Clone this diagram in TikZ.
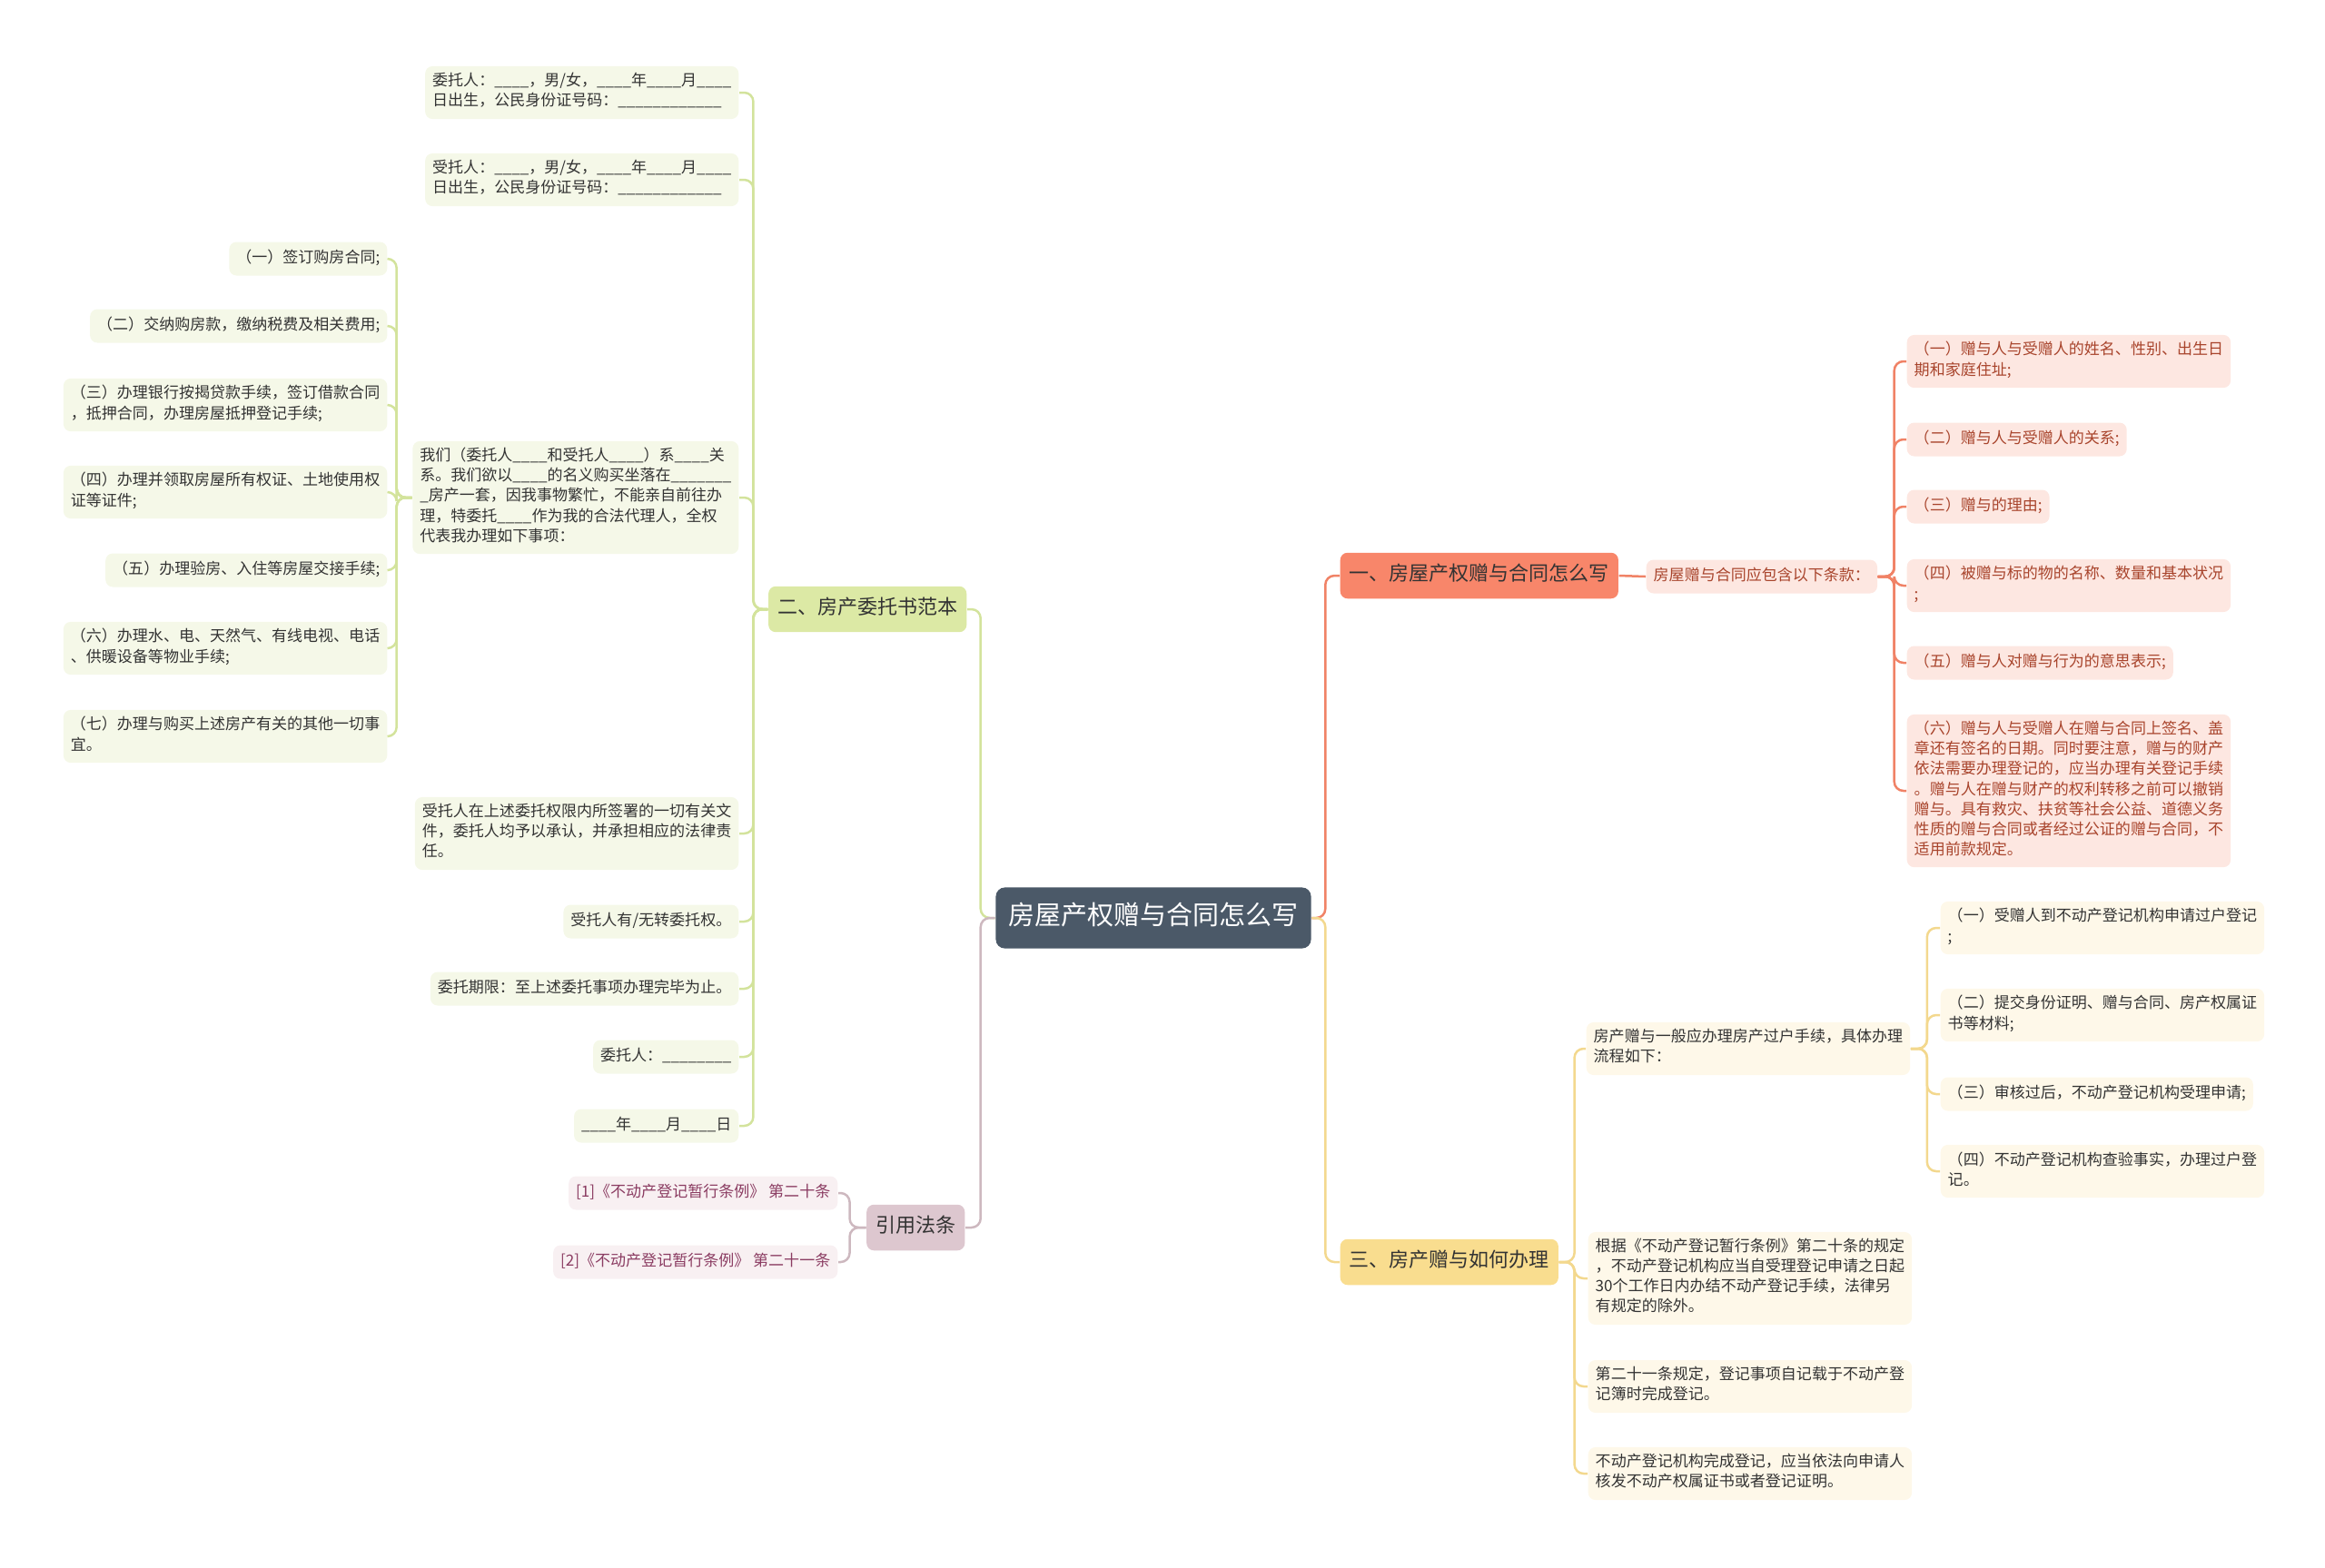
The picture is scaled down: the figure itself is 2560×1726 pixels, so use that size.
\documentclass[tikz,border=0pt]{standalone}
\usepackage{fontspec}
\setmainfont{Noto Sans CJK SC}
\usepackage{tikz}

\definecolor{rootfill}{HTML}{4B5968}
\definecolor{darktext}{HTML}{333333}
\definecolor{redline}{HTML}{F08266}
\definecolor{redfill}{HTML}{F8866A}
\definecolor{redleaf}{HTML}{FDE7E1}
\definecolor{redtext}{HTML}{A8442C}
\definecolor{yelline}{HTML}{F3D88E}
\definecolor{yelfill}{HTML}{F9DD8F}
\definecolor{yelleaf}{HTML}{FEF8E9}
\definecolor{grnline}{HTML}{D3E39C}
\definecolor{grnfill}{HTML}{DCE9A5}
\definecolor{grnleaf}{HTML}{F5F8E8}
\definecolor{pnkline}{HTML}{CDB8BF}
\definecolor{pnkfill}{HTML}{DDC7CF}
\definecolor{pnkleaf}{HTML}{F8F0F2}
\definecolor{pnktext}{HTML}{8B3C62}

\newcommand{\leaffont}{\fontsize{4.84pt}{6.26pt}\selectfont}
\newcommand{\branchfont}{\fontsize{6.26pt}{7.5pt}\selectfont}
\newcommand{\rootfont}{\fontsize{8.25pt}{10pt}\selectfont}

\tikzset{
  box/.style={rounded corners=0.08cm, align=left,
    execute at begin node=\strut, execute at end node=\strut},
  leaf/.style={box, font=\leaffont, inner xsep=0.08cm, inner ysep=0.075cm, text=darktext},
  gleaf/.style={leaf, fill=grnleaf},
  rleaf/.style={leaf, fill=redleaf, text=redtext},
  yleaf/.style={leaf, fill=yelleaf},
  pleaf/.style={leaf, fill=pnkleaf, text=pnktext},
  branch/.style={box, font=\branchfont, inner xsep=0.1cm, inner ysep=0.12cm, text=darktext},
  rootbox/.style={box, font=\rootfont, fill=rootfill, text=white,
    inner xsep=0.14cm, inner ysep=0.16cm, rounded corners=0.1cm},
  link/.style={line width=0.025cm, rounded corners=0.1cm},
}

\begin{document}
\begin{tikzpicture}[x=0.01cm, y=-0.01cm]
    \useasboundingbox (0,0) rectangle (2560,1726);

    \node[rootbox] (root) at (1270,1011) {房屋产权赠与合同怎么写};

    % right: 一
    \node[branch, fill=redfill, anchor=west] (zengyu) at (1475,634) {一、房屋产权赠与合同怎么写};
    \node[rleaf, anchor=west] (tiaokuan) at (1812,635) {房屋赠与合同应包含以下条款：};
    \node[rleaf, anchor=west] (tk1) at (2099,398) {（一）赠与人与受赠人的姓名、性别、出生日\\期和家庭住址;};
    \node[rleaf, anchor=west] (tk2) at (2099,484) {（二）赠与人与受赠人的关系;};
    \node[rleaf, anchor=west] (tk3) at (2099,558) {（三）赠与的理由;};
    \node[rleaf, anchor=west] (tk4) at (2099,645) {（四）被赠与标的物的名称、数量和基本状况\\;};
    \node[rleaf, anchor=west] (tk5) at (2099,730) {（五）赠与人对赠与行为的意思表示;};
    \node[rleaf, anchor=west] (tk6) at (2099,871) {（六）赠与人与受赠人在赠与合同上签名、盖\\章还有签名的日期。同时要注意，赠与的财产\\依法需要办理登记的，应当办理有关登记手续\\。赠与人在赠与财产的权利转移之前可以撤销\\赠与。具有救灾、扶贫等社会公益、道德义务\\性质的赠与合同或者经过公证的赠与合同，不\\适用前款规定。};

    % right: 三
    \node[branch, fill=yelfill, anchor=west] (banli) at (1475,1390) {三、房产赠与如何办理};
    \node[yleaf, anchor=west] (liucheng) at (1746,1155) {房产赠与一般应办理房产过户手续，具体办理\\流程如下：};
    \node[yleaf, anchor=west] (lc1) at (2136,1022) {（一）受赠人到不动产登记机构申请过户登记\\;};
    \node[yleaf, anchor=west] (lc2) at (2136,1118) {（二）提交身份证明、赠与合同、房产权属证\\书等材料;};
    \node[yleaf, anchor=west] (lc3) at (2136,1205) {（三）审核过后，不动产登记机构受理申请;};
    \node[yleaf, anchor=west] (lc4) at (2136,1290) {（四）不动产登记机构查验事实，办理过户登\\记。};
    \node[yleaf, anchor=west] (tiao20) at (1748,1408) {根据《不动产登记暂行条例》第二十条的规定\\，不动产登记机构应当自受理登记申请之日起\\30个工作日内办结不动产登记手续，法律另\\有规定的除外。};
    \node[yleaf, anchor=west] (tiao21) at (1748,1527) {第二十一条规定，登记事项自记载于不动产登\\记簿时完成登记。};
    \node[yleaf, anchor=west] (zhengshu) at (1748,1623) {不动产登记机构完成登记，应当依法向申请人\\核发不动产权属证书或者登记证明。};

    % left: 二
    \node[branch, fill=grnfill, anchor=east] (fanben) at (1065,671) {二、房产委托书范本};
    \node[gleaf, anchor=east] (weituo) at (814,102) {委托人：\_\_\_\_，男/女，\_\_\_\_年\_\_\_\_月\_\_\_\_\\日出生，公民身份证号码：\_\_\_\_\_\_\_\_\_\_\_\_};
    \node[gleaf, anchor=east] (shoutuo) at (814,198) {受托人：\_\_\_\_，男/女，\_\_\_\_年\_\_\_\_月\_\_\_\_\\日出生，公民身份证号码：\_\_\_\_\_\_\_\_\_\_\_\_};
    \node[gleaf, anchor=east] (shixiang) at (814,548) {我们（委托人\_\_\_\_和受托人\_\_\_\_）系\_\_\_\_关\\系。我们欲以\_\_\_\_的名义购买坐落在\_\_\_\_\_\_\_\\\_房产一套，因我事物繁忙，不能亲自前往办\\理，特委托\_\_\_\_作为我的合法代理人，全权\\代表我办理如下事项：};
    \node[gleaf, anchor=east] (sx1) at (427,285) {（一）签订购房合同;};
    \node[gleaf, anchor=east] (sx2) at (427,359) {（二）交纳购房款，缴纳税费及相关费用;};
    \node[gleaf, anchor=east] (sx3) at (427,446) {（三）办理银行按揭贷款手续，签订借款合同\\，抵押合同，办理房屋抵押登记手续;};
    \node[gleaf, anchor=east] (sx4) at (427,542) {（四）办理并领取房屋所有权证、土地使用权\\证等证件;};
    \node[gleaf, anchor=east] (sx5) at (427,628) {（五）办理验房、入住等房屋交接手续;};
    \node[gleaf, anchor=east] (sx6) at (427,714) {（六）办理水、电、天然气、有线电视、电话\\、供暖设备等物业手续;};
    \node[gleaf, anchor=east] (sx7) at (427,811) {（七）办理与购买上述房产有关的其他一切事\\宜。};
    \node[gleaf, anchor=east] (chengren) at (814,918) {受托人在上述委托权限内所签署的一切有关文\\件，委托人均予以承认，并承担相应的法律责\\任。};
    \node[gleaf, anchor=east] (zhuan) at (814,1015) {受托人有/无转委托权。};
    \node[gleaf, anchor=east] (qixian) at (814,1089) {委托期限：至上述委托事项办理完毕为止。};
    \node[gleaf, anchor=east] (qianming) at (814,1164) {委托人：\_\_\_\_\_\_\_\_};
    \node[gleaf, anchor=east] (riqi) at (814,1240) {\_\_\_\_年\_\_\_\_月\_\_\_\_日};

    % left: 引用法条
    \node[branch, fill=pnkfill, anchor=east] (fatiao) at (1063,1352) {引用法条};
    \node[pleaf, anchor=east] (ft1) at (923,1314) {[1]《不动产登记暂行条例》 第二十条};
    \node[pleaf, anchor=east] (ft2) at (923,1390) {[2]《不动产登记暂行条例》 第二十一条};

    % connectors
    \draw[link, redline] (root.east) -- ++(15,0) |- (zengyu.west);
    \draw[link, yelline] (root.east) -- ++(15,0) |- (banli.west);
    \draw[link, grnline] (root.west) -- ++(-16,0) |- (fanben.east);
    \draw[link, pnkline] (root.west) -- ++(-16,0) |- (fatiao.east);

    \draw[link, redline] (zengyu.east) -- (tiaokuan.west);
    \draw[link, redline] (tiaokuan.east) -- ++(18,0) |- (tk1.west);
    \draw[link, redline] (tiaokuan.east) -- ++(18,0) |- (tk2.west);
    \draw[link, redline] (tiaokuan.east) -- ++(18,0) |- (tk3.west);
    \draw[link, redline] (tiaokuan.east) -- ++(18,0) |- (tk4.west);
    \draw[link, redline] (tiaokuan.east) -- ++(18,0) |- (tk5.west);
    \draw[link, redline] (tiaokuan.east) -- ++(18,0) |- (tk6.west);

    \draw[link, yelline] (banli.east) -- ++(17,0) |- (liucheng.west);
    \draw[link, yelline] (banli.east) -- ++(17,0) |- (tiao20.west);
    \draw[link, yelline] (banli.east) -- ++(17,0) |- (tiao21.west);
    \draw[link, yelline] (banli.east) -- ++(17,0) |- (zhengshu.west);
    \draw[link, yelline] (liucheng.east) -- ++(18,0) |- (lc1.west);
    \draw[link, yelline] (liucheng.east) -- ++(18,0) |- (lc2.west);
    \draw[link, yelline] (liucheng.east) -- ++(18,0) |- (lc3.west);
    \draw[link, yelline] (liucheng.east) -- ++(18,0) |- (lc4.west);

    \draw[link, grnline] (fanben.west) -- ++(-16,0) |- (weituo.east);
    \draw[link, grnline] (fanben.west) -- ++(-16,0) |- (shoutuo.east);
    \draw[link, grnline] (fanben.west) -- ++(-16,0) |- (shixiang.east);
    \draw[link, grnline] (fanben.west) -- ++(-16,0) |- (chengren.east);
    \draw[link, grnline] (fanben.west) -- ++(-16,0) |- (zhuan.east);
    \draw[link, grnline] (fanben.west) -- ++(-16,0) |- (qixian.east);
    \draw[link, grnline] (fanben.west) -- ++(-16,0) |- (qianming.east);
    \draw[link, grnline] (fanben.west) -- ++(-16,0) |- (riqi.east);
    \draw[link, grnline] (shixiang.west) -- ++(-17,0) |- (sx1.east);
    \draw[link, grnline] (shixiang.west) -- ++(-17,0) |- (sx2.east);
    \draw[link, grnline] (shixiang.west) -- ++(-17,0) |- (sx3.east);
    \draw[link, grnline] (shixiang.west) -- ++(-17,0) |- (sx4.east);
    \draw[link, grnline] (shixiang.west) -- ++(-17,0) |- (sx5.east);
    \draw[link, grnline] (shixiang.west) -- ++(-17,0) |- (sx6.east);
    \draw[link, grnline] (shixiang.west) -- ++(-17,0) |- (sx7.east);

    \draw[link, pnkline] (fatiao.west) -- ++(-18,0) |- (ft1.east);
    \draw[link, pnkline] (fatiao.west) -- ++(-18,0) |- (ft2.east);
\end{tikzpicture}
\end{document}
